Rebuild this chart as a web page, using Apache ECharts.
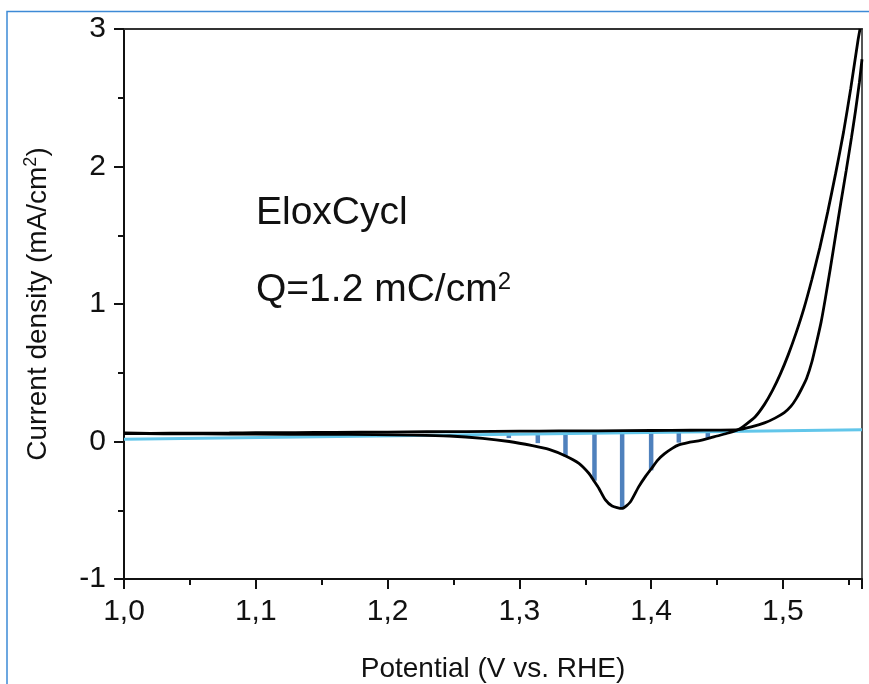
<!DOCTYPE html>
<html>
<head>
<meta charset="utf-8">
<title>EloxCycl CV</title>
<script src="https://cdn.jsdelivr.net/npm/echarts@6.0.0/dist/echarts.min.js"></script>
<style>
  html, body { margin: 0; padding: 0; background: #fff; }
  #chart { width: 869px; height: 684px; }
</style>
</head>
<body>
<div id="chart"></div>
<script>
// anodic sweep: flat part, then the later (right) OER branch
const anodicV = [1.000, 1.020, 1.050, 1.080, 1.100, 1.130, 1.160, 1.200, 1.230, 1.260, 1.300, 1.330, 1.360, 1.400, 1.430, 1.450, 1.466, 1.476, 1.486, 1.494, 1.501, 1.506, 1.510, 1.514, 1.518, 1.522, 1.5255, 1.529, 1.532, 1.536, 1.540, 1.544, 1.548, 1.552, 1.555, 1.558, 1.560];
const anodicI = [0.062, 0.059, 0.061, 0.062, 0.064, 0.064, 0.067, 0.068, 0.071, 0.072, 0.075, 0.077, 0.078, 0.080, 0.082, 0.083, 0.086, 0.106, 0.135, 0.170, 0.210, 0.255, 0.310, 0.380, 0.460, 0.580, 0.720, 0.870, 1.030, 1.260, 1.500, 1.740, 1.970, 2.210, 2.400, 2.610, 2.780];

// cathodic sweep: steep left branch back down, then the reduction peak
const cathodicV = [1.5585, 1.5570, 1.5515, 1.546, 1.540, 1.534, 1.528, 1.522, 1.516, 1.510, 1.504, 1.498, 1.492, 1.486, 1.479, 1.472, 1.466, 1.4585, 1.450, 1.4434, 1.436, 1.428, 1.421, 1.416, 1.410, 1.405, 1.400, 1.396, 1.3905, 1.3842, 1.3779, 1.3704, 1.3653, 1.3603, 1.3565, 1.3527, 1.3452, 1.3351, 1.3225, 1.3099, 1.2923, 1.2721, 1.2470, 1.220, 1.190, 1.150, 1.100, 1.060, 1.030, 1.000];
const cathodicI = [3.000, 2.920, 2.570, 2.250, 1.950, 1.670, 1.410, 1.180, 0.970, 0.790, 0.630, 0.490, 0.370, 0.270, 0.180, 0.125, 0.086, 0.062, 0.040, 0.022, 0.005, -0.008, -0.025, -0.050, -0.090, -0.135, -0.200, -0.250, -0.330, -0.440, -0.487, -0.469, -0.425, -0.340, -0.285, -0.231, -0.159, -0.105, -0.057, -0.030, 0.000, 0.023, 0.040, 0.047, 0.050, 0.052, 0.053, 0.055, 0.056, 0.058];

// integration baseline
const baseV = [1.00, 1.56];
const baseI = [0.016, 0.085];

// integration strips
const stripV = [1.292, 1.314, 1.335, 1.357, 1.378, 1.400, 1.421, 1.443];
const stripTop = [0.052, 0.054, 0.057, 0.060, 0.062, 0.065, 0.068, 0.070];
const stripBottom = [0.025, -0.012, -0.108, -0.285, -0.483, -0.210, -0.008, 0.027];

const xTicks = ['1,0', '1,1', '1,2', '1,3', '1,4', '1,5'];

const FONT = '"Liberation Sans", Arial, sans-serif';
const zip = (a, b) => a.map((v, i) => [v, b[i]]);

const chart = echarts.init(document.getElementById('chart'), null, { renderer: 'canvas' });

const option = {
  animation: false,
  backgroundColor: '#fff',
  textStyle: { fontFamily: FONT },
  grid: { left: 124, right: 7, top: 29, bottom: 105, containLabel: false, outerBoundsMode: 'none' },
  xAxis: [{
    type: 'value', min: 1.0, max: 1.56, interval: 0.1,
    axisLine: { show: true, onZero: false, lineStyle: { color: '#111', width: 2 } },
    axisTick: { show: true, inside: false, length: 10, lineStyle: { color: '#111', width: 2 } },
    minorTick: { show: true, splitNumber: 2, length: 6, lineStyle: { color: '#111', width: 2 } },
    splitLine: { show: false },
    axisLabel: {
      fontSize: 30, color: '#111', margin: 18, fontFamily: FONT, showMaxLabel: false,
      formatter: v => xTicks[Math.round((v - 1.0) * 10)] || ''
    },
    name: 'Potential (V vs. RHE)', nameLocation: 'middle', nameGap: 76,
    nameTextStyle: { fontSize: 28, color: '#111', fontFamily: FONT }
  }, {
    type: 'value', min: 1.0, max: 1.56, position: 'top',
    axisLine: { show: true, onZero: false, lineStyle: { color: '#333', width: 2 } },
    axisTick: { show: false }, axisLabel: { show: false }, splitLine: { show: false }
  }],
  yAxis: [{
    type: 'value', min: -1, max: 3, interval: 1,
    axisLine: { show: true, onZero: false, lineStyle: { color: '#111', width: 2 } },
    axisTick: { show: true, inside: false, length: 10, lineStyle: { color: '#111', width: 2 } },
    minorTick: { show: true, splitNumber: 2, length: 6, lineStyle: { color: '#111', width: 2 } },
    splitLine: { show: false },
    axisLabel: { fontSize: 30, color: '#111', margin: 18, fontFamily: FONT },
    name: 'Current density (mA/cm{sup|2})', nameLocation: 'middle', nameGap: 70, nameRotate: 90,
    nameTextStyle: {
      fontSize: 28, color: '#111', fontFamily: FONT,
      rich: { sup: { fontSize: 18, verticalAlign: 'top', padding: [0, 0, 14, 0], fontFamily: FONT, color: '#111' } }
    }
  }, {
    type: 'value', min: -1, max: 3, position: 'right',
    axisLine: { show: true, onZero: false, lineStyle: { color: '#555', width: 2 } },
    axisTick: { show: false }, axisLabel: { show: false }, splitLine: { show: false }
  }],
  series: [{
    type: 'custom',
    name: 'strips',
    data: stripV.map((v, i) => [v, stripTop[i], stripBottom[i]]),
    renderItem: (params, api) => {
      const p1 = api.coord([api.value(0), api.value(1)]);
      const p2 = api.coord([api.value(0), api.value(2)]);
      return {
        type: 'rect',
        shape: { x: p1[0] - 2.25, y: p1[1], width: 4.5, height: p2[1] - p1[1] },
        style: { fill: '#4F81BD' }
      };
    },
    z: 1
  }, {
    type: 'line', name: 'baseline', data: zip(baseV, baseI),
    showSymbol: false, lineStyle: { color: '#62C6EA', width: 3 }, z: 2
  }, {
    type: 'line', name: 'anodic', data: zip(anodicV, anodicI),
    showSymbol: false, smooth: 0.2, lineStyle: { color: '#000', width: 2.8 }, z: 3
  }, {
    type: 'line', name: 'cathodic', data: zip(cathodicV, cathodicI),
    showSymbol: false, smooth: 0.2, lineStyle: { color: '#000', width: 2.8 }, z: 3
  }],
  graphic: [{
    type: 'polyline',
    shape: { points: [[7, 684], [7, 11.5], [869, 11.5]] },
    style: { stroke: '#3D8AD6', lineWidth: 1.5, fill: null },
    silent: true
  }, {
    type: 'text', left: 256, top: 194,
    style: { text: 'EloxCycl', fontSize: 39, fill: '#111', fontFamily: FONT }
  }, {
    type: 'text', left: 256, top: 270,
    style: {
      text: 'Q=1.2 mC/cm{sup|2}', fontSize: 39, fill: '#111', fontFamily: FONT,
      rich: { sup: { fontSize: 24, verticalAlign: 'top', padding: [0, 0, 16, 0], fontFamily: FONT, fill: '#111' } }
    }
  }]
};

chart.setOption(option);
</script>
</body>
</html>
